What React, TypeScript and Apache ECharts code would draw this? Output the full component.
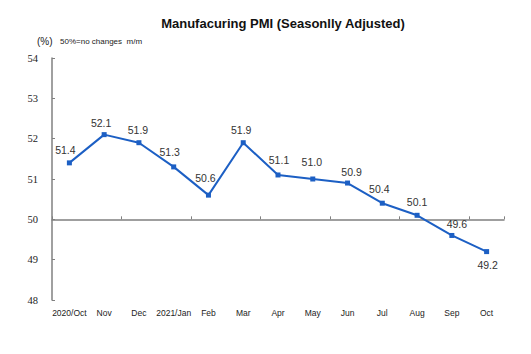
import React, { useEffect, useRef } from "react";
import * as echarts from "echarts";

const categories = ["2020/Oct", "Nov", "Dec", "2021/Jan", "Feb", "Mar", "Apr", "May", "Jun", "Jul", "Aug", "Sep", "Oct"];
const pmiValues = [51.4, 52.1, 51.9, 51.3, 50.6, 51.9, 51.1, 51.0, 50.9, 50.4, 50.1, 49.6, 49.2];
const yTicks = { min: 48, max: 54, interval: 1 };
const titleText = "Manufacuring PMI (Seasonlly Adjusted)";
const unitText = "(%)";
const noteText = "50%=no changes  m/m";
const baseline = 50;

// label placement tweaks (style only)
const labelOffsets: [number, number][] = [
  [-4, 0], [-3, 1], [-1, 0], [-4, -2], [-3, -4], [-2, 0], [1, -2], [-1, -4], [4, 2], [-3, -1], [0, 0], [5, 2], [1, 0],
];
const labelBelow = [false, false, false, false, false, false, false, false, false, false, false, false, true];

const BLUE = "#1c5fc4";
const AXIS = "#808080";
const SANS = "Liberation Sans, Arial, sans-serif";

export default function App() {
  const ref = useRef<HTMLDivElement>(null);
  useEffect(() => {
    if (!ref.current) return;
    const chart = echarts.init(ref.current, undefined, { renderer: "svg" });
    const gridTop = 58;
    const gridBottom = 54;
    const plotH = 354 - gridTop - gridBottom;
    const baseOffset = -((baseline - yTicks.min) / (yTicks.max - yTicks.min)) * plotH;
    chart.setOption({
      animation: false,
      backgroundColor: "#ffffff",
      title: [
        {
          text: titleText,
          left: 278,
          top: 12,
          textAlign: "center",
          textStyle: { fontFamily: SANS, fontSize: 13, fontWeight: "bold", color: "#111" },
        },
        {
          text: unitText,
          left: 37,
          top: 36,
          padding: 0,
          textStyle: { fontFamily: SANS, fontSize: 10, fontWeight: "normal", color: "#222" },
        },
        {
          text: noteText,
          left: 60,
          top: 37,
          padding: 0,
          textStyle: { fontFamily: SANS, fontSize: 8, fontWeight: "normal", color: "#222" },
        },
      ],
      grid: { left: 52, right: 27, top: gridTop, bottom: gridBottom },
      xAxis: [
        {
          type: "category",
          data: categories,
          boundaryGap: true,
          position: "bottom",
          axisLine: { show: false },
          axisTick: { show: false },
          axisLabel: { margin: 8, fontFamily: SANS, fontSize: 8.5, color: "#222", interval: 0 },
        },
        {
          type: "category",
          data: categories,
          boundaryGap: true,
          position: "bottom",
          offset: baseOffset,
          axisLine: { show: true, onZero: false, lineStyle: { color: AXIS, width: 1.5 } },
          axisTick: { show: true, inside: true, length: 3, lineStyle: { color: AXIS } },
          axisLabel: { show: false },
        },
      ],
      yAxis: {
        type: "value",
        min: yTicks.min,
        max: yTicks.max,
        interval: yTicks.interval,
        splitLine: { show: false },
        axisLine: { show: true, lineStyle: { color: AXIS, width: 1.5 } },
        axisTick: { show: true, inside: true, length: 3, lineStyle: { color: AXIS } },
        axisLabel: { margin: 14, fontFamily: "Liberation Serif", fontSize: 10.5, color: "#222" },
      },
      series: [
        {
          type: "line",
          xAxisIndex: 0,
          data: pmiValues.map((v, i) => ({
            value: v,
            label: { position: labelBelow[i] ? "bottom" : "top", offset: labelOffsets[i] },
          })),
          symbol: "rect",
          symbolSize: 5,
          lineStyle: { color: BLUE, width: 2 },
          itemStyle: { color: BLUE },
          label: {
            show: true,
            distance: 5,
            formatter: (p: any) => Number(p.value).toFixed(1),
            fontFamily: SANS,
            fontSize: 10.5,
            color: "#333",
          },
          z: 3,
        },
      ],
    });
    return () => chart.dispose();
  }, []);
  return <div ref={ref} style={{ position: "fixed", left: 0, top: 0, width: 531, height: 354 }} />;
}
